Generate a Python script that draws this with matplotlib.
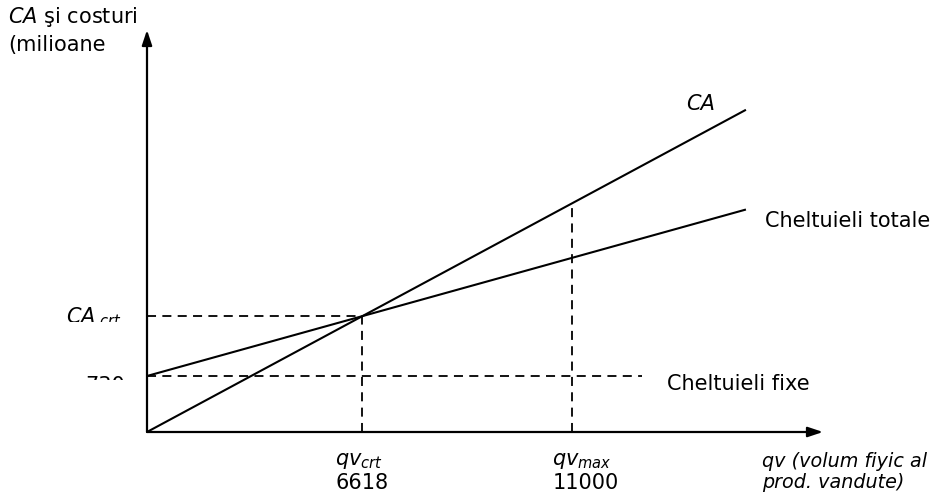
import matplotlib
matplotlib.use("Agg")
import matplotlib.pyplot as plt
from matplotlib.transforms import Bbox, TransformedBbox

# Break-even diagram (schematic x axis, y in millions)
fixed_costs = 730            # Cheltuieli fixe
ca_end = 4200                # CA at the right end of the drawn range
ct_end = 2900                # Cheltuieli totale at the right end
x_end = 88.6                 # right end of the drawn lines (diagram units)
x_max = 62.9                 # position of qv_max on the diagram
x_fix_end = 73.2             # end of the fixed-cost guide
qv_labels = ["6618", "11000"]
y_top = 5240

W, H, DPI = 937, 493, 100
fig = plt.figure(figsize=(W / DPI, H / DPI), dpi=DPI)
ax = fig.add_axes([147 / W, (H - 432) / H, 676 / W, 402 / H])
ax.set_xlim(0, 100)
ax.set_ylim(0, y_top)
ax.axis("off")

# revenue and total-cost lines
ca_slope = ca_end / x_end
ct_slope = (ct_end - fixed_costs) / x_end
x_crt = fixed_costs / (ca_slope - ct_slope)
y_crt = ca_slope * x_crt
y_at_max = ca_slope * x_max

lw = 1.5
ax.plot([0, x_end], [0, ca_end], color="black", lw=lw, solid_capstyle="butt", clip_on=False)
ax.plot([0, x_end], [fixed_costs, ct_end], color="black", lw=lw, solid_capstyle="butt", clip_on=False)

dash = dict(color="black", lw=1.3, ls=(0, (5, 3.5)), clip_on=False)
ax.plot([0, x_crt], [y_crt, y_crt], **dash)
ax.plot([x_crt, x_crt], [0, y_crt], **dash)
ax.plot([0, x_fix_end], [fixed_costs, fixed_costs], **dash)
ax.plot([x_max, x_max], [0, y_at_max], **dash)

# axes with arrow heads
arrow = dict(arrowstyle="-|>,head_length=0.9,head_width=0.3", color="black", lw=1.6,
             shrinkA=0, shrinkB=0)
ax.annotate("", xy=(1, 0), xytext=(0, 0), xycoords="axes fraction", arrowprops=arrow)
ax.annotate("", xy=(0, 1), xytext=(0, 0), xycoords="axes fraction", arrowprops=arrow)

fs = 15
# line labels
ax.annotate("CA", xy=(x_end, ca_end), xytext=(-45, 6), textcoords="offset pixels",
            ha="center", va="center", fontsize=fs, style="italic")
ax.annotate("Cheltuieli totale", xy=(x_end, ct_end), xytext=(19, -11),
            textcoords="offset pixels", ha="left", va="center", fontsize=fs)
ax.annotate("Cheltuieli fixe", xy=(x_fix_end, fixed_costs), xytext=(25, -8),
            textcoords="offset pixels", ha="left", va="center", fontsize=fs)

# x-axis labels
for xv, sub, num, dx in [(x_crt, "crt", qv_labels[0], -27), (x_max, "max", qv_labels[1], -20)]:
    ax.annotate(r"$\mathit{qv}_{\mathit{%s}}$" % sub, xy=(xv, 0), xytext=(dx, -29),
                textcoords="offset pixels", ha="left", va="center", fontsize=fs)
    ax.annotate(num, xy=(xv, 0), xytext=(dx, -51),
                textcoords="offset pixels", ha="left", va="center", fontsize=fs)

ax.annotate("qv (volum fiyic al\nprod. vandute)", xy=(1, 0), xycoords="axes fraction",
            xytext=(-61, -40), textcoords="offset pixels", ha="left", va="center",
            fontsize=13.8, style="italic", linespacing=1.15)

# y-axis labels, cut off at the bottom by their frames
def clipped_label(text, y_val, dx, dy, clip_bottom_px):
    t = ax.annotate(text, xy=(0, y_val), xytext=(dx, dy), textcoords="offset pixels",
                    ha="right", va="baseline", fontsize=fs, annotation_clip=False)
    box = Bbox([[0, (H - clip_bottom_px) / H], [147 / W, 1]])
    t.set_clip_box(TransformedBbox(box, fig.transFigure))
    t.set_clip_on(True)
    return t

clipped_label(r"$\mathit{CA}_{\ \mathit{crt}}$", y_crt, -25, -7, 322)
clipped_label(str(fixed_costs), fixed_costs, -22, -16, 380)

# y-axis title
fig.text(8 / W, 1 - 5 / H, r"$\mathit{CA}$ şi costuri" + "\n(milioane", ha="left", va="top",
         fontsize=fs, linespacing=1.35)

fig.savefig("out.png", dpi=DPI, facecolor="white")
